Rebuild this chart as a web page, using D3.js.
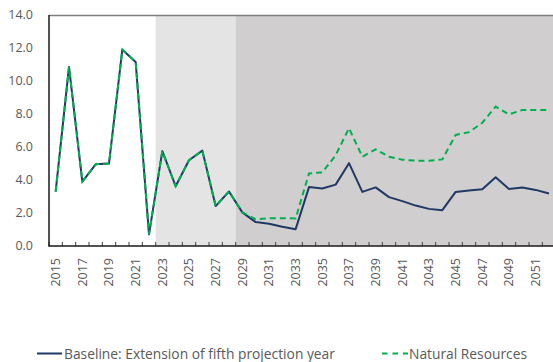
<!DOCTYPE html>
<html>
<head>
<meta charset="utf-8">
<script src="https://cdn.jsdelivr.net/npm/d3@7"></script>
<style>
  html, body { margin: 0; padding: 0; background: #fff; }
  svg { display: block; font-family: "Open Sans", "Noto Sans", sans-serif; }
</style>
</head>
<body>
<svg id="chart" width="553" height="362"></svg>
<script>
// Years on the category axis
const years = d3.range(2015, 2053);

// Baseline: Extension of fifth projection year
const baseline = [3.3, 10.85, 3.9, 4.95, 5.0, 11.9, 11.15, 0.7, 5.75, 3.62,
  5.2, 5.78, 2.42, 3.3, 2.04, 1.45, 1.35, 1.17, 1.02, 3.57,
  3.48, 3.72, 5.02, 3.28, 3.55, 2.96, 2.72, 2.45, 2.25, 2.17,
  3.28, 3.36, 3.44, 4.17, 3.46, 3.55, 3.4, 3.18];

// Natural Resources scenario
const natural = [3.3, 10.85, 3.9, 4.95, 5.0, 11.9, 11.15, 0.7, 5.75, 3.62,
  5.2, 5.78, 2.42, 3.3, 2.04, 1.62, 1.68, 1.68, 1.67, 4.4,
  4.46, 5.5, 7.14, 5.41, 5.86, 5.41, 5.23, 5.17, 5.17, 5.25,
  6.73, 6.9, 7.47, 8.45, 7.98, 8.24, 8.24, 8.24];

const yTicks = [0, 2, 4, 6, 8, 10, 12, 14];

// Shaded periods: [first year, last year, fill]
const periods = [
  [2023, 2028, "#e4e4e4"],
  [2029, 2052, "#d0cece"]
];

(function draw() {
  const svg = d3.select("#chart");
  const mLeft = 49, mTop = 15, mBottom = 246;
  const bandW = 13.333;
  const mRight = mLeft + bandW * years.length;

  const x = d3.scaleBand().domain(years).range([mLeft, mRight]).padding(0);
  const y = d3.scaleLinear().domain([0, 14]).range([mBottom, mTop]);
  const cx = d => x(d) + x.bandwidth() / 2;

  // Background shading for forecast periods
  svg.append("g").selectAll("rect").data(periods).join("rect")
    .attr("x", d => x(d[0]))
    .attr("y", mTop)
    .attr("width", d => x(d[1]) + x.bandwidth() - x(d[0]))
    .attr("height", mBottom - mTop)
    .attr("fill", d => d[2]);

  // Top frame line
  svg.append("line")
    .attr("x1", mLeft).attr("x2", 553)
    .attr("y1", mTop + 0.5).attr("y2", mTop + 0.5)
    .attr("stroke", "#808080").attr("stroke-width", 1.5);

  // Y axis labels
  svg.append("g").selectAll("text").data(yTicks).join("text")
    .attr("x", 33).attr("y", d => y(d))
    .attr("dy", "0.35em")
    .attr("text-anchor", "end")
    .attr("font-size", 12.5)
    .attr("fill", "#595959")
    .text(d => d3.format(".1f")(d));

  // Lines
  const line = arr => d3.line()
    .x((d, i) => cx(years[i]))
    .y(d => y(d))(arr);

  svg.append("path")
    .attr("d", line(baseline))
    .attr("fill", "none")
    .attr("stroke", "#1f3864")
    .attr("stroke-width", 2)
    .attr("stroke-linejoin", "round");

  svg.append("path")
    .attr("d", line(natural))
    .attr("fill", "none")
    .attr("stroke", "#00b050")
    .attr("stroke-width", 2)
    .attr("stroke-dasharray", "6,4");

  // Category tick marks along the bottom axis
  const tickXs = d3.range(years.length + 1).map(i => mLeft + i * bandW);
  svg.append("g").selectAll("line").data(tickXs).join("line")
    .attr("x1", d => d).attr("x2", d => d)
    .attr("y1", mBottom - 4).attr("y2", mBottom)
    .attr("stroke", "#404040").attr("stroke-width", 1);

  // Axis lines
  svg.append("line")
    .attr("x1", mLeft).attr("x2", 553)
    .attr("y1", mBottom).attr("y2", mBottom)
    .attr("stroke", "#1a1a1a").attr("stroke-width", 1.5);
  svg.append("line")
    .attr("x1", mLeft).attr("x2", mLeft)
    .attr("y1", mTop).attr("y2", mBottom + 0.75)
    .attr("stroke", "#1a1a1a").attr("stroke-width", 1.5);

  // X axis labels (every other year, rotated)
  svg.append("g").selectAll("text")
    .data(years.filter((d, i) => i % 2 === 0)).join("text")
    .attr("transform", d => `translate(${cx(d)},258) rotate(-90)`)
    .attr("dy", "0.35em")
    .attr("text-anchor", "end")
    .attr("font-size", 12.5)
    .attr("fill", "#595959")
    .text(d => d);

  // Legend
  const legend = svg.append("g").attr("font-size", 13.8).attr("fill", "#595959");
  legend.append("line")
    .attr("x1", 37).attr("x2", 62).attr("y1", 353.5).attr("y2", 353.5)
    .attr("stroke", "#1f3864").attr("stroke-width", 2);
  legend.append("text")
    .attr("x", 64).attr("y", 354).attr("dy", "0.35em")
    .text("Baseline: Extension of fifth projection year");
  legend.append("line")
    .attr("x1", 382).attr("x2", 408).attr("y1", 353.5).attr("y2", 353.5)
    .attr("stroke", "#00b050").attr("stroke-width", 2)
    .attr("stroke-dasharray", "5.5,5");
  legend.append("text")
    .attr("x", 409).attr("y", 354).attr("dy", "0.35em")
    .text("Natural Resources");
})();
</script>
</body>
</html>
